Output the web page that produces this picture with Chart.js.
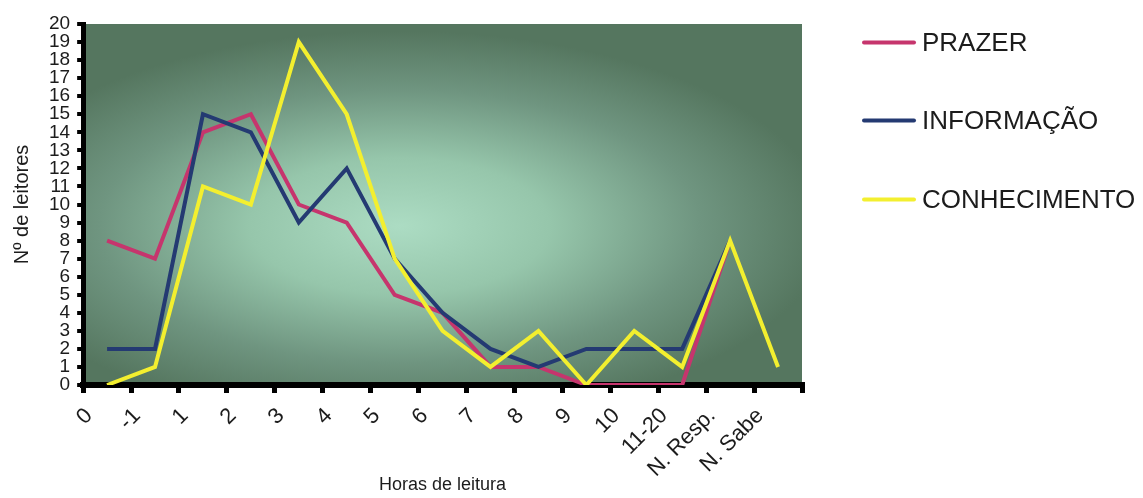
<!DOCTYPE html>
<html lang="pt">
<head>
<meta charset="utf-8">
<title>Horas de leitura</title>
<script src="https://cdn.jsdelivr.net/npm/chart.js@4.4.1/dist/chart.umd.min.js"></script>
<style>
    html, body { margin: 0; padding: 0; background: #fff; }
    #wrap { position: relative; width: 1143px; height: 498px; }
    #legend { position: absolute; left: 862px; top: 0; font-family: "Liberation Sans", Arial, sans-serif; }
    #legend .item { position: absolute; left: 0; display: flex; align-items: center; white-space: nowrap; transform: translateY(-50%); }
    #legend .swatch { width: 54px; height: 4px; border-radius: 2px; margin-right: 6px; }
    #legend .text { font-size: 26px; color: #1c1c1c; }
</style>
</head>
<body>
<div id="wrap">
    <canvas id="leituraChart"></canvas>
    <div id="legend"></div>
</div>
<script>
// hours-of-reading categories (tick labels sit on the category boundaries)
const categorias = ['0', '-1', '1', '2', '3', '4', '5', '6', '7', '8', '9', '10', '11-20', 'N. Resp.', 'N. Sabe']

// number of readers per category
const prazer      = [8, 7, 14, 15, 10, 9, 5, 4, 1, 1, 0, 0, 0, 8, null]
const informacao  = [2, 2, 15, 14, 9, 12, 7, 4, 2, 1, 2, 2, 2, 8, null]
const conhecimento = [0, 1, 11, 10, 19, 15, 7, 3, 1, 3, 0, 3, 1, 8, 1]

const yTicks = { min: 0, max: 20, step: 1 }

const FONT = '"Liberation Sans", Arial, sans-serif'

// points go in the middle of each category slot
function toPoints(values) {
    return values.map((v, i) => ({ x: i + 0.5, y: v }))
}

const series = [
    { label: 'PRAZER', values: prazer, color: '#c6356d', order: 3 },
    { label: 'INFORMAÇÃO', values: informacao, color: '#243a72', order: 2 },
    { label: 'CONHECIMENTO', values: conhecimento, color: '#f3ef2f', order: 1 }
]

// greenish glow behind the plot
const plotGlow = {
    id: 'plotGlow',
    beforeDraw(chart) {
        const { ctx, chartArea: a } = chart
        const w = a.right - a.left
        const h = a.bottom - a.top
        const cx = a.left + w * 0.44
        const cy = a.top + h * 0.56
        ctx.save()
        ctx.beginPath()
        ctx.rect(a.left, a.top, w, h)
        ctx.clip()
        ctx.translate(cx, cy)
        ctx.scale(2.2, 1)
        const g = ctx.createRadialGradient(0, 0, 0, 0, 0, 195)
        g.addColorStop(0, '#acdcc3')
        g.addColorStop(0.35, '#96c6ab')
        g.addColorStop(0.7, '#6f9580')
        g.addColorStop(1, '#55765f')
        ctx.fillStyle = g
        ctx.fillRect(-1000, -1000, 2000, 2000)
        ctx.restore()
    }
}

new Chart(document.getElementById('leituraChart'), {
    type: 'line',
    data: {
        datasets: series.map(s => ({
            label: s.label,
            data: toPoints(s.values),
            borderColor: s.color,
            backgroundColor: s.color,
            borderWidth: 4,
            pointRadius: 0,
            tension: 0,
            order: s.order
        }))
    },
    options: {
        responsive: true,
        maintainAspectRatio: false,
        animation: false,
        layout: {
            padding: { left: 10, top: 24, right: 341, bottom: 0 }
        },
        plugins: {
            legend: { display: false },
            tooltip: { enabled: false }
        },
        scales: {
            x: {
                type: 'linear',
                min: 0,
                max: categorias.length,
                border: { color: '#000', width: 6 },
                grid: { drawOnChartArea: false, color: '#000', lineWidth: 5, tickLength: 8 },
                ticks: {
                    stepSize: 1,
                    autoSkip: false,
                    maxRotation: 45,
                    minRotation: 45,
                    padding: 10,
                    labelOffset: 6,
                    color: '#1c1c1c',
                    font: { family: FONT, size: 22 },
                    callback: value => categorias[value] ?? ''
                },
                title: {
                    display: true,
                    text: 'Horas de leitura',
                    color: '#1c1c1c',
                    font: { family: FONT, size: 18 },
                    padding: { top: 0, bottom: 2 }
                },
                // the long rotated labels run down beside the title
                afterFit(scale) {
                    scale.height = 113
                }
            },
            y: {
                min: yTicks.min,
                max: yTicks.max,
                border: { color: '#000', width: 5 },
                grid: { drawOnChartArea: false, color: '#000', lineWidth: 4, tickLength: 6 },
                ticks: {
                    stepSize: yTicks.step,
                    autoSkip: false,
                    padding: 7,
                    color: '#1c1c1c',
                    font: { family: FONT, size: 19, lineHeight: 1 },
                },
                title: {
                    display: true,
                    text: 'Nº de leitores',
                    color: '#1c1c1c',
                    font: { family: FONT, size: 20, lineHeight: 1 },
                    padding: { top: 2, bottom: 10 }
                }
            }
        }
    },
    plugins: [plotGlow]
})

// legend: a line swatch and the series name
const legendTops = [42, 120, 199]
const legend = document.getElementById('legend')
series.forEach((s, i) => {
    const item = document.createElement('div')
    item.className = 'item'
    item.style.top = legendTops[i] + 'px'
    item.innerHTML = '<span class="swatch" style="background:' + s.color + '"></span><span class="text">' + s.label + '</span>'
    legend.appendChild(item)
})
</script>
</body>
</html>
